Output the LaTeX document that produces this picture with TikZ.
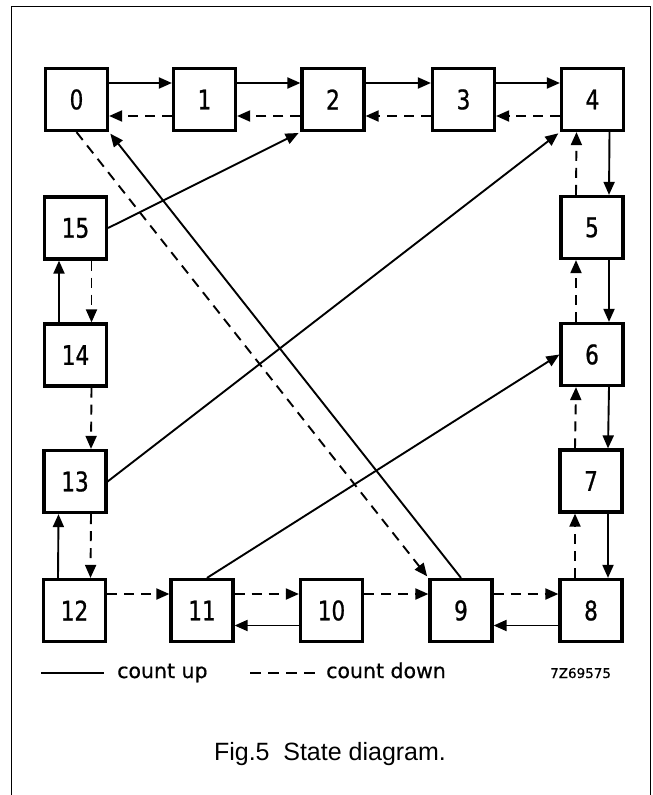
\documentclass[tikz,border=0pt]{standalone}
\usepackage{fontspec}
\setmainfont{Liberation Sans}
\newfontfamily\dinfont[FakeStretch=0.8,FakeBold=0.8]{DejaVu Sans}
\newfontfamily\legfont[FakeBold=0.6]{DejaVu Sans}
\usetikzlibrary{arrows.meta}
\begin{document}
\begin{tikzpicture}[x=1pt,y=-1pt,
  state/.style={draw, line width=3.2pt, minimum size=62pt, inner sep=0pt,
    font=\dinfont\fontsize{27}{27}\selectfont},
  up/.style={line width=1.9pt, -{Triangle[length=13pt,width=11pt]}},
  down/.style={up, dash pattern=on 10pt off 7pt},
  legtext/.style={anchor=base west, inner sep=0pt, font=\legfont\fontsize{20.5}{20.5}\selectfont}]
\useasboundingbox (0,0) rectangle (653,795);
\draw[line width=1pt] (11,795) -- (11,6) -- (650,6) -- (650,795);
% states
\node[state] (n0) at (76.5,99.5) {0};
\node[state] (n1) at (204.5,99.5) {1};
\node[state] (n2) at (333,99.5) {2};
\node[state] (n3) at (463.5,99.5) {3};
\node[state] (n4) at (592.5,99.5) {4};
\node[state] (n5) at (592,227.5) {5};
\node[state] (n6) at (592,354.5) {6};
\node[state] (n7) at (591,481) {7};
\node[state] (n8) at (591,610.5) {8};
\node[state] (n9) at (461,610.5) {9};
\node[state] (n10) at (331.5,610.5) {10};
\node[state] (n11) at (202,610.5) {11};
\node[state] (n12) at (74.5,610.5) {12};
\node[state] (n13) at (75,481.5) {13};
\node[state] (n14) at (75.5,355) {14};
\node[state] (n15) at (75.5,228) {15};
% top row
\foreach \a/\b in {n0/n1,n1/n2,n2/n3,n3/n4}{
  \draw[up] ([yshift=16.5pt]\a.east) -- ([yshift=16.5pt]\b.west);
  \draw[down] ([yshift=-16.5pt]\b.west) -- ([yshift=-16.5pt]\a.east);
}
% right column
\foreach \a/\b in {n4/n5,n5/n6,n6/n7,n7/n8}{
  \draw[up] ([xshift=17pt]\a.south) -- ([xshift=17pt]\b.north);
  \draw[down] ([xshift=-16pt]\b.north) -- ([xshift=-16pt]\a.south);
}
% bottom row
\draw[up] ([yshift=-15pt]n8.west) -- ([yshift=-15pt]n9.east);
\draw[down] ([yshift=16.5pt]n9.east) -- ([yshift=16.5pt]n8.west);
\draw[down] ([yshift=16.5pt]n10.east) -- ([yshift=16.5pt]n9.west);
\draw[up] ([yshift=-15pt]n10.west) -- ([yshift=-15pt]n11.east);
\draw[down] ([yshift=16.5pt]n11.east) -- ([yshift=16.5pt]n10.west);
\draw[down] ([yshift=16.5pt]n12.east) -- ([yshift=16.5pt]n11.west);
% left column
\draw[up] ([xshift=-16.5pt]n12.north) -- ([xshift=-16.5pt]n13.south);
\draw[down] ([xshift=16pt]n13.south) -- ([xshift=16pt]n12.north);
\draw[down] ([xshift=16pt]n14.south) -- ([xshift=16pt]n13.north);
\draw[up] ([xshift=-16.5pt]n14.north) -- ([xshift=-16.5pt]n15.south);
\draw[down] ([xshift=16pt]n15.south) -- ([xshift=16pt]n14.north);
% diagonals
\draw[down, shorten >=2pt] (n0.south) -- (n9.north west);
\draw[up, shorten >=2pt] (n9.north) -- (n0.south east);
\draw[up, shorten >=2pt] (n15.east) -- (n2.south west);
\draw[up, shorten >=2pt] (n13.east) -- (n4.south west);
\draw[up] ([xshift=5pt]n11.north) -- (n6.west);
% legend
\coordinate (ls1) at (41,673);
\coordinate (ls2) at (104,673);
\draw[line width=1.9pt] (ls1) -- (ls2);
\node[legtext] (lu) at (117,678) {count up};
\coordinate (ld1) at (250,673);
\coordinate (ld2) at (315,673);
\draw[line width=1.9pt, dash pattern=on 11pt off 7pt] (ld1) -- (ld2);
\node[legtext] (ld) at (326,678) {count down};
\node[anchor=base west, inner sep=0pt, font=\legfont\fontsize{13.5}{13.5}\selectfont] (code) at (550,678) {7Z69575};
% caption
\node[anchor=base, inner sep=0pt, font=\fontsize{25}{25}\selectfont] (cap) at (330,760) {Fig.5\hspace{0.55em}State diagram.};
\end{tikzpicture}
\end{document}
